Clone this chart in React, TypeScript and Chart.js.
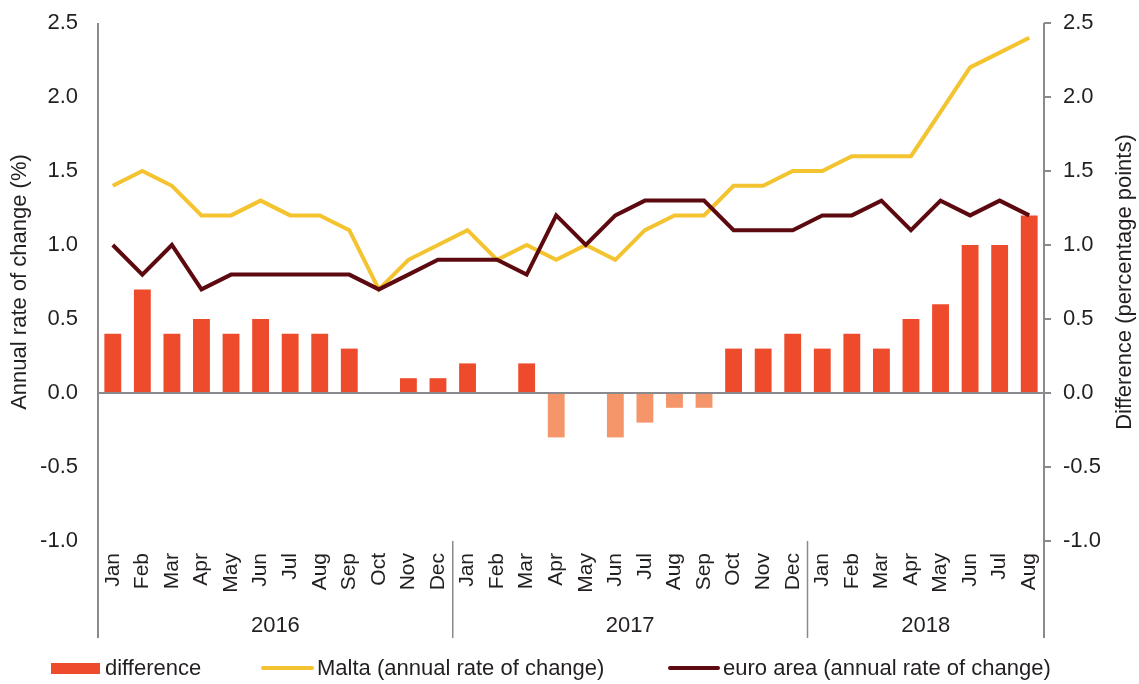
import React, { useEffect, useRef } from 'react';
import { Chart, registerables } from 'chart.js';

Chart.register(...registerables);

const monthLabels = [
  'Jan', 'Feb', 'Mar', 'Apr', 'May', 'Jun', 'Jul', 'Aug', 'Sep', 'Oct', 'Nov', 'Dec',
  'Jan', 'Feb', 'Mar', 'Apr', 'May', 'Jun', 'Jul', 'Aug', 'Sep', 'Oct', 'Nov', 'Dec',
  'Jan', 'Feb', 'Mar', 'Apr', 'May', 'Jun', 'Jul', 'Aug',
];
const yearLabels = ['2016', '2017', '2018'];
const yearMonthCounts = [12, 12, 8];

const difference = [
  0.4, 0.7, 0.4, 0.5, 0.4, 0.5, 0.4, 0.4, 0.3, 0.0, 0.1, 0.1,
  0.2, 0.0, 0.2, -0.3, 0.0, -0.3, -0.2, -0.1, -0.1, 0.3, 0.3, 0.4,
  0.3, 0.4, 0.3, 0.5, 0.6, 1.0, 1.0, 1.2,
];
const malta = [
  1.4, 1.5, 1.4, 1.2, 1.2, 1.3, 1.2, 1.2, 1.1, 0.7, 0.9, 1.0,
  1.1, 0.9, 1.0, 0.9, 1.0, 0.9, 1.1, 1.2, 1.2, 1.4, 1.4, 1.5,
  1.5, 1.6, 1.6, 1.6, 1.9, 2.2, 2.3, 2.4,
];
const euroArea = [
  1.0, 0.8, 1.0, 0.7, 0.8, 0.8, 0.8, 0.8, 0.8, 0.7, 0.8, 0.9,
  0.9, 0.9, 0.8, 1.2, 1.0, 1.2, 1.3, 1.3, 1.3, 1.1, 1.1, 1.1,
  1.2, 1.2, 1.3, 1.1, 1.3, 1.2, 1.3, 1.2,
];

const axisMin = -1.0;
const axisMax = 2.5;
const axisStep = 0.5;

const leftTitle = 'Annual rate of change (%)';
const rightTitle = 'Difference (percentage points)';
const seriesNames = ['difference', 'Malta (annual rate of change)', 'euro area (annual rate of change)'];

const FONT = '"Liberation Sans", Arial, sans-serif';
const TEXT = '#231f20';
const AXIS = '#8a8a8e';
const BAR_POS = '#ee4a2c';
const BAR_NEG = '#f4956a';
const YELLOW = '#f3c330';
const DARK = '#5c0a0f';

const decorPlugin = {
  id: 'decor',
  afterDatasetsDraw(chart: any) {
    const { ctx, chartArea } = chart;
    const y1 = chart.scales.y1;
    const zy = y1.getPixelForValue(0);
    ctx.save();
    ctx.strokeStyle = AXIS;
    ctx.lineWidth = 2;
    ctx.beginPath();
    ctx.moveTo(chartArea.left, zy);
    ctx.lineTo(chartArea.right, zy);
    ctx.stroke();
    ctx.restore();
  },
  afterDraw(chart: any) {
    const { ctx, chartArea } = chart;
    const x = chart.scales.x;
    const bottomLine = 638;
    ctx.save();
    ctx.strokeStyle = AXIS;
    ctx.lineWidth = 2;
    ctx.beginPath();
    ctx.moveTo(chartArea.left, chartArea.top);
    ctx.lineTo(chartArea.left, bottomLine);
    ctx.moveTo(chartArea.right, chartArea.top);
    ctx.lineTo(chartArea.right, bottomLine);
    ctx.stroke();

    const half = (x.getPixelForTick(1) - x.getPixelForTick(0)) / 2;
    let start = 0;
    ctx.font = `22px ${FONT}`;
    ctx.fillStyle = TEXT;
    ctx.textAlign = 'center';
    ctx.textBaseline = 'middle';
    yearLabels.forEach((yl, i) => {
      const end = start + yearMonthCounts[i] - 1;
      const x0 = x.getPixelForTick(start) - half;
      const x1 = x.getPixelForTick(end) + half;
      if (i > 0) {
        ctx.lineWidth = 1.5;
        ctx.beginPath();
        ctx.moveTo(x0, chartArea.bottom);
        ctx.lineTo(x0, bottomLine);
        ctx.stroke();
      }
      ctx.fillText(yl, (x0 + x1) / 2, 626);
      start = end + 1;
    });

    const midY = (chartArea.top + chartArea.bottom) / 2;
    ctx.save();
    ctx.translate(20, midY);
    ctx.rotate(-Math.PI / 2);
    ctx.fillText(leftTitle, 0, 0);
    ctx.restore();
    ctx.save();
    ctx.translate(1125, midY);
    ctx.rotate(-Math.PI / 2);
    ctx.fillText(rightTitle, 0, 0);
    ctx.restore();

    const ly = 669;
    ctx.textAlign = 'left';
    ctx.fillStyle = BAR_POS;
    ctx.fillRect(51, 663, 49, 11);
    ctx.fillStyle = TEXT;
    ctx.fillText(seriesNames[0], 105, ly);
    ctx.lineCap = 'round';
    ctx.lineWidth = 4;
    ctx.strokeStyle = YELLOW;
    ctx.beginPath();
    ctx.moveTo(263, 668);
    ctx.lineTo(312, 668);
    ctx.stroke();
    ctx.fillText(seriesNames[1], 317, ly);
    ctx.strokeStyle = DARK;
    ctx.beginPath();
    ctx.moveTo(670, 668);
    ctx.lineTo(718, 668);
    ctx.stroke();
    ctx.fillText(seriesNames[2], 723, ly);
    ctx.restore();
  },
};

export default function App() {
  const canvasRef = useRef<HTMLCanvasElement | null>(null);

  useEffect(() => {
    if (!canvasRef.current) return;
    Chart.defaults.font.family = FONT;
    Chart.defaults.color = TEXT;
    const tickFmt = (v: any) => Number(v).toFixed(1);
    const chart = new Chart(canvasRef.current, {
      type: 'bar',
      data: {
        labels: monthLabels,
        datasets: [
          {
            type: 'line',
            label: seriesNames[2],
            data: euroArea,
            yAxisID: 'y',
            borderColor: DARK,
            backgroundColor: DARK,
            borderWidth: 4,
            pointRadius: 0,
            tension: 0,
            order: 1,
          } as any,
          {
            type: 'line',
            label: seriesNames[1],
            data: malta,
            yAxisID: 'y',
            borderColor: YELLOW,
            backgroundColor: YELLOW,
            borderWidth: 4,
            pointRadius: 0,
            tension: 0,
            order: 2,
          } as any,
          {
            type: 'bar',
            label: seriesNames[0],
            data: difference,
            yAxisID: 'y1',
            backgroundColor: difference.map((v) => (v < 0 ? BAR_NEG : BAR_POS)),
            borderWidth: 0,
            categoryPercentage: 1,
            barPercentage: 0.57,
            order: 3,
          } as any,
        ],
      },
      options: {
        responsive: false,
        animation: false,
        layout: { padding: { top: 23, left: 0, right: 0, bottom: 0 } },
        plugins: {
          legend: { display: false },
          tooltip: { enabled: false },
          title: { display: false },
        },
        scales: {
          x: {
            type: 'category',
            offset: true,
            grid: { display: false, drawTicks: false },
            border: { display: false },
            ticks: {
              autoSkip: false,
              minRotation: 90,
              maxRotation: 90,
              padding: 12,
              font: { size: 21 },
              color: TEXT,
            },
            afterFit: (s: any) => { s.height = 143; s.paddingLeft = 0; s.paddingRight = 0; },
          },
          y: {
            position: 'left',
            min: axisMin,
            max: axisMax,
            ticks: { stepSize: axisStep, callback: tickFmt, padding: 20, font: { size: 22 }, color: TEXT },
            grid: { display: false, drawTicks: false },
            border: { display: false },
            afterFit: (s: any) => { s.width = 98; s.paddingTop = 0; s.paddingBottom = 0; },
          },
          y1: {
            position: 'right',
            min: axisMin,
            max: axisMax,
            ticks: { stepSize: axisStep, callback: tickFmt, padding: 12, font: { size: 22 }, color: TEXT },
            grid: {
              display: true,
              drawOnChartArea: false,
              drawTicks: true,
              tickLength: 7,
              color: AXIS,
              lineWidth: 2,
            },
            border: { display: false },
            afterFit: (s: any) => { s.width = 95; s.paddingTop = 0; s.paddingBottom = 0; },
          },
        },
      },
      plugins: [decorPlugin],
    } as any);
    return () => chart.destroy();
  }, []);

  return (
    <div style={{ position: 'absolute', left: 0, top: 0, width: 1139, height: 684 }}>
      <canvas ref={canvasRef} width={1139} height={684} />
    </div>
  );
}
